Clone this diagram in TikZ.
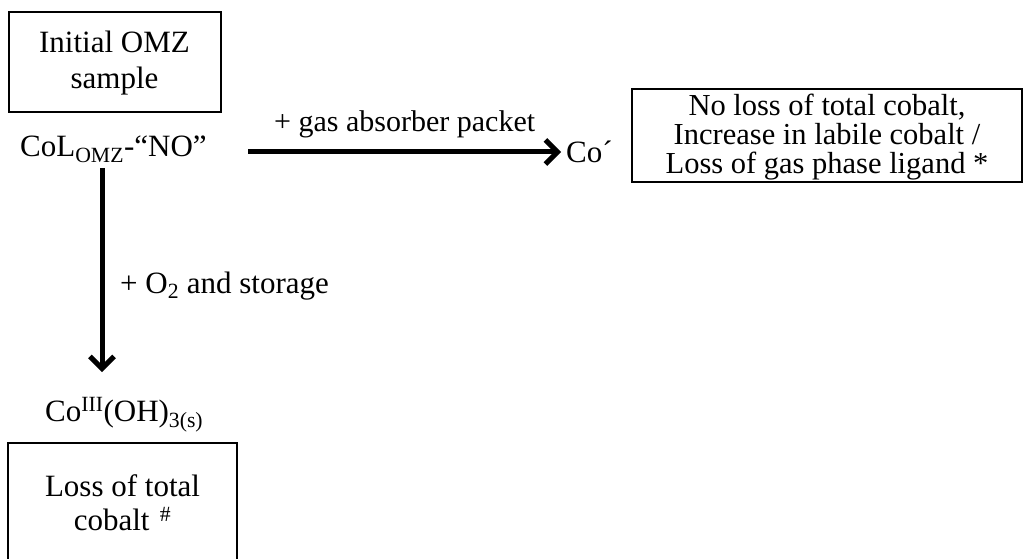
\documentclass[tikz,border=0pt]{standalone}
\usepackage{fontspec}
\setmainfont{Liberation Serif}
\usetikzlibrary{arrows.meta}
\begin{document}
\begin{tikzpicture}[x=1pt,y=-1pt,
  txt/.style={inner sep=0pt, font=\fontsize{31}{34}\selectfont, align=center},
  boxed/.style={draw, line width=2pt, inner sep=0pt},
  arr/.style={line width=5pt, -{Straight Barb[length=12pt,width=24pt,line width=5pt]}}]
\useasboundingbox (0,0) rectangle (1031,559);
% top-left box
\node[boxed, minimum width=212pt, minimum height=100pt] (initbox) at (114.5,62.5) {};
\node[txt, font=\fontsize{31}{36}\selectfont] (inittxt) at (114.5,63) {Initial OMZ\\sample};
% CoL
\node[txt, anchor=base west] (col) at (20,157) {CoL\textsubscript{OMZ}-“NO”};
% horizontal arrow
\coordinate (hstart) at (248,152);
\node[txt, anchor=base west] (coprime) at (566,163) {Co´};
\draw[arr, shorten >=5pt] (hstart) -- (coprime.west |- hstart);
\node[txt, font=\fontsize{30}{33}\selectfont, anchor=base west] (gas) at (274,132) {+ gas absorber packet};
% right box
\node[boxed, minimum width=390pt, minimum height=93pt] (rbox) at (827,135.5) {};
\node[txt, font=\fontsize{30.5}{29}\selectfont] (rtxt) at (827,137) {No loss of total cobalt,\\Increase in labile cobalt /\\Loss of gas phase ligand *};
% vertical arrow
\coordinate (vstart) at (102,168);
\node[txt, anchor=base west] (coiii) at (45,421) {Co\textsuperscript{III}(OH)\textsubscript{3(s)}};
\coordinate (vend) at (102,372);
\draw[arr] (vstart) -- (vend);
\node[txt, anchor=base west] (o2) at (120,293) {+ O\textsubscript{2} and storage};
% bottom box
\node[boxed, minimum width=229pt, minimum height=140pt] (lbox) at (122.5,513) {};
\node[txt] (ltxt) at (122.5,503) {Loss of total\\cobalt\,\,\textsuperscript{\#}};
\end{tikzpicture}
\end{document}
